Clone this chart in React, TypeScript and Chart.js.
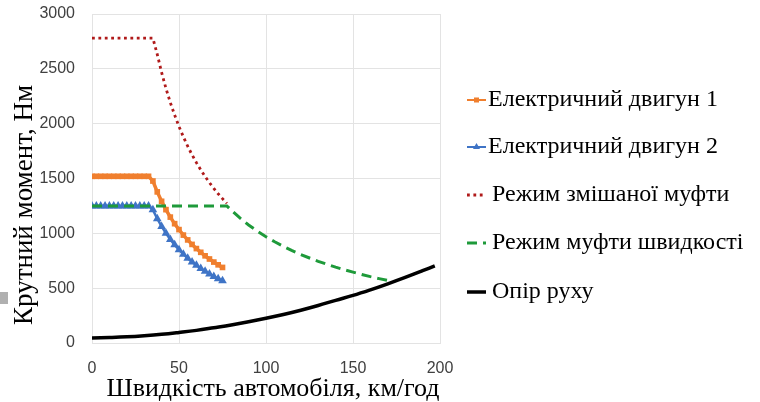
import { useEffect, useRef } from "react";
import { Chart, registerables } from "chart.js";

Chart.register(...registerables);

const motorSpeed = [0, 2.5, 5, 7.5, 10, 12.5, 15, 17.5, 20, 22.5, 25, 27.5, 30, 32.5, 35, 37.5, 40, 42.5, 45, 47.5, 50, 52.5, 55, 57.5, 60, 62.5, 65, 67.5, 70, 72.5, 75];
const motor1 = [1520, 1520, 1520, 1520, 1520, 1520, 1520, 1520, 1520, 1520, 1520, 1520, 1520, 1520, 1477, 1378, 1292, 1216, 1148, 1088, 1034, 984, 940, 899, 861, 827, 795, 766, 738, 713, 689];
const motor2 = [1250, 1250, 1250, 1250, 1250, 1250, 1250, 1250, 1250, 1250, 1250, 1250, 1250, 1250, 1214, 1133, 1063, 1000, 944, 895, 850, 810, 773, 739, 708, 680, 654, 630, 607, 586, 567];

const mixedSpeed = [0, 2.5, 5, 7.5, 10, 12.5, 15, 17.5, 20, 22.5, 25, 27.5, 30, 32.5, 35, 37.5, 40, 42.5, 45, 47.5, 50, 52.5, 55, 57.5, 60, 62.5, 65, 67.5, 70, 72.5, 75, 77.5];
const mixedMode = [2780, 2780, 2780, 2780, 2780, 2780, 2780, 2780, 2780, 2780, 2780, 2780, 2780, 2780, 2780, 2632, 2467, 2322, 2193, 2078, 1974, 1880, 1794, 1716, 1645, 1579, 1518, 1462, 1410, 1361, 1316, 1273];

const speedModeSpeed = [0, 77.5, 80, 85, 90, 95, 100, 105, 110, 115, 120, 125, 130, 135, 140, 145, 150, 155, 160, 165, 170];
const speedMode = [1250, 1250, 1211, 1140, 1076, 1020, 969, 923, 881, 842, 807, 775, 745, 718, 692, 668, 646, 625, 605, 587, 570];

const resistSpeed = [0, 10, 20, 30, 40, 50, 60, 70, 80, 90, 100, 110, 120, 130, 140, 150, 160, 170, 180, 190, 197];
const resistance = [46, 50, 56, 66, 79, 96, 115, 139, 164, 193, 225, 260, 299, 342, 389, 434, 485, 540, 598, 659, 703];

const seriesNames = [
  "Електричний двигун 1",
  "Електричний двигун 2",
  "Режим змішаної муфти",
  "Режим муфти швидкості",
  "Опір руху",
];
const xTitle = "Швидкість автомобіля, км/год";
const yTitle = "Крутний момент, Нм";

const zip = (xs: number[], ys: number[]) => xs.map((x, i) => ({ x, y: ys[i] }));

const annotationPlugin = {
  id: "customLegendAndTitles",
  afterDraw(chart: any) {
    const ctx = chart.ctx;
    const ys = [100, 147, 195, 243, 292];
    const x0 = 467;
    const x1 = 486;
    chart.data.datasets.forEach((ds: any, i: number) => {
      const y = ys[i];
      ctx.save();
      ctx.strokeStyle = ds.borderColor;
      ctx.lineWidth = i < 2 ? 2 : ds.borderWidth;
      ctx.setLineDash(ds.borderDash || []);
      ctx.beginPath();
      ctx.moveTo(x0, y);
      ctx.lineTo(x1, y);
      ctx.stroke();
      ctx.setLineDash([]);
      ctx.fillStyle = ds.borderColor;
      const cx = (x0 + x1) / 2;
      if (ds.pointStyle === "rect") {
        ctx.fillRect(cx - 2.5, y - 2.5, 5, 5);
      } else if (ds.pointStyle === "triangle") {
        ctx.beginPath();
        ctx.moveTo(cx, y - 4);
        ctx.lineTo(cx + 3.5, y + 2);
        ctx.lineTo(cx - 3.5, y + 2);
        ctx.closePath();
        ctx.fill();
      }
      ctx.fillStyle = "#000";
      ctx.font = "24px 'Liberation Serif'";
      ctx.textBaseline = "middle";
      ctx.textAlign = "left";
      ctx.fillText(ds.label, i < 2 ? 488 : 492, y);
      ctx.restore();
    });

    ctx.save();
    ctx.fillStyle = "#000";
    ctx.font = "26px 'Liberation Serif'";
    ctx.textAlign = "center";
    ctx.textBaseline = "alphabetic";
    ctx.fillText(xTitle, 273, 396);
    ctx.translate(32, 205);
    ctx.rotate(-Math.PI / 2);
    ctx.font = "27px 'Liberation Serif'";
    ctx.fillText(yTitle, 0, 0);
    ctx.restore();
  },
};

export default function App() {
  const ref = useRef<HTMLCanvasElement | null>(null);

  useEffect(() => {
    if (!ref.current) return;
    const gridColor = "#e3e3e3";
    const tickFont = { family: "'Liberation Sans'", size: 16 };
    const chart = new Chart(ref.current, {
      type: "line",
      data: {
        datasets: [
          {
            label: seriesNames[0],
            data: zip(motorSpeed, motor1),
            borderColor: "#F07F2E",
            backgroundColor: "#F07F2E",
            borderWidth: 3.5,
            pointStyle: "rect",
            pointRadius: 4,
            pointBorderWidth: 0,
            order: 2,
          },
          {
            label: seriesNames[1],
            data: zip(motorSpeed, motor2),
            borderColor: "#3F74C6",
            backgroundColor: "#3F74C6",
            borderWidth: 2.5,
            pointStyle: "triangle",
            pointRadius: 5,
            pointBorderWidth: 0,
            order: 3,
          },
          {
            label: seriesNames[2],
            data: zip(mixedSpeed, mixedMode),
            borderColor: "#B01A1A",
            backgroundColor: "#B01A1A",
            borderWidth: 2.8,
            borderDash: [2.8, 3.6],
            pointRadius: 0,
            order: 4,
          },
          {
            label: seriesNames[3],
            data: zip(speedModeSpeed, speedMode),
            borderColor: "#1E9A3A",
            backgroundColor: "#1E9A3A",
            borderWidth: 3,
            borderDash: [10, 6],
            pointRadius: 0,
            order: 1,
          },
          {
            label: seriesNames[4],
            data: zip(resistSpeed, resistance),
            borderColor: "#000000",
            backgroundColor: "#000000",
            borderWidth: 3.5,
            pointRadius: 0,
            tension: 0.4,
            order: 0,
          },
        ],
      },
      options: {
        animation: false,
        responsive: true,
        maintainAspectRatio: false,
        layout: { padding: { top: 14, right: 320, left: 0, bottom: 0 } },
        plugins: { legend: { display: false }, tooltip: { enabled: false } },
        scales: {
          x: {
            type: "linear",
            min: 0,
            max: 200,
            ticks: {
              stepSize: 50,
              font: tickFont,
              color: "#404040",
              padding: 16,
              callback: (v: any) => String(v),
            },
            grid: { color: gridColor, drawTicks: false },
            border: { color: gridColor },
            afterFit: (s: any) => {
              s.height = 59;
              s.paddingLeft = 0;
              s.paddingRight = 0;
            },
          },
          y: {
            type: "linear",
            min: 0,
            max: 3000,
            ticks: {
              stepSize: 500,
              font: tickFont,
              color: "#404040",
              padding: 17,
              callback: (v: any) => String(v),
            },
            grid: { color: gridColor, drawTicks: false },
            border: { color: gridColor },
            afterFit: (s: any) => {
              s.width = 92;
              s.paddingTop = 0;
              s.paddingBottom = 0;
            },
          },
        },
      },
      plugins: [annotationPlugin],
    } as any);
    return () => chart.destroy();
  }, []);

  return (
    <div style={{ position: "absolute", left: 0, top: 0, width: 760, height: 402, background: "#fff" }}>
      <canvas ref={ref} />
      <div style={{ position: "absolute", left: 0, top: 292, width: 8, height: 12, background: "#b0b0b0" }} />
    </div>
  );
}
